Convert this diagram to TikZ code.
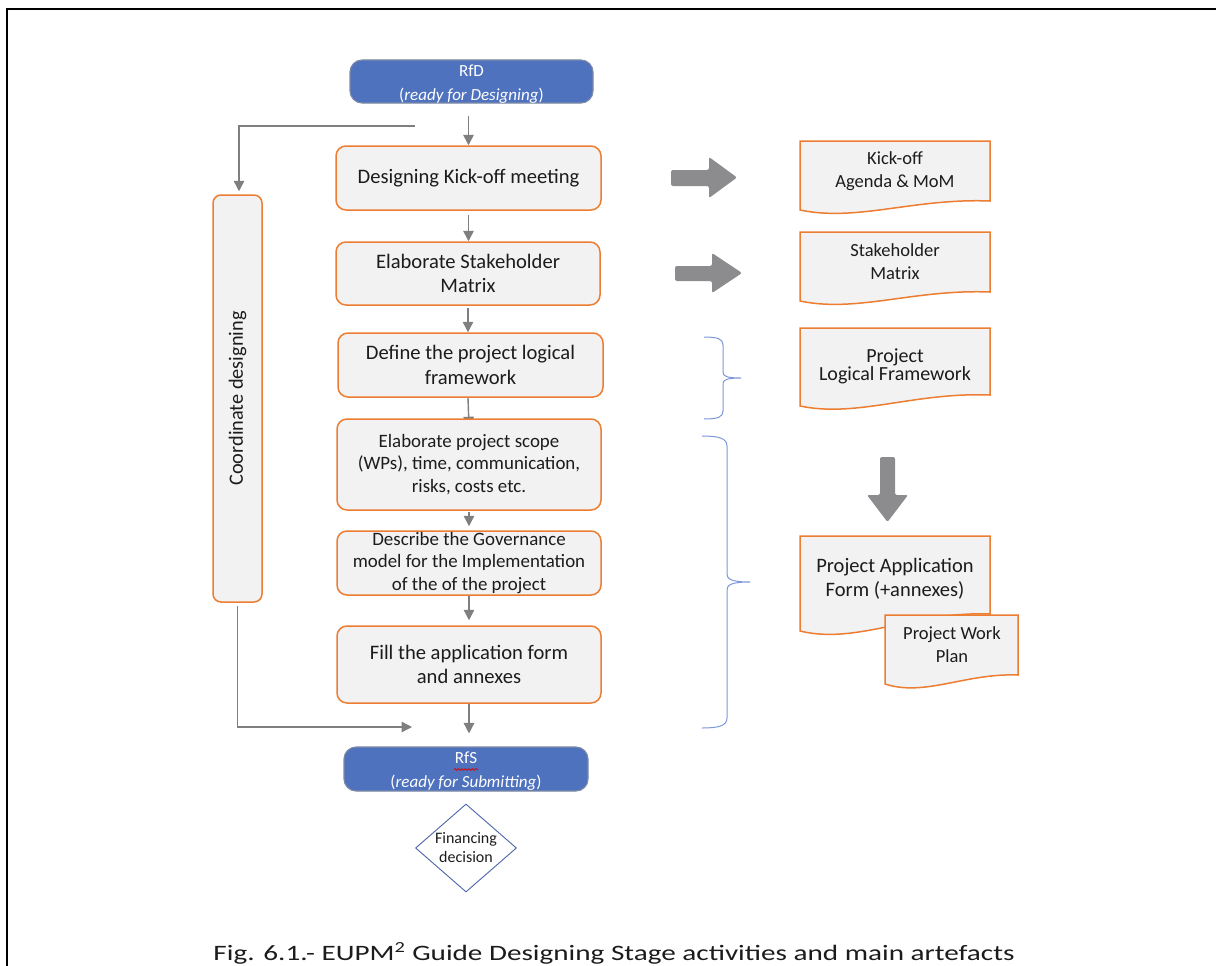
\documentclass[tikz,border=0pt]{standalone}
\usepackage{fontspec}
\setmainfont{Carlito}
\usetikzlibrary{arrows.meta,shapes.geometric,decorations.pathmorphing,backgrounds}

\definecolor{boxfill}{HTML}{F2F2F2}
\definecolor{boxline}{HTML}{ED7D31}
\definecolor{milestone}{HTML}{4F72BE}
\definecolor{msline}{HTML}{7D8AA6}
\definecolor{flowgray}{HTML}{7F7F7F}
\definecolor{bigarrow}{HTML}{8C8C8E}
\definecolor{bracecol}{HTML}{7B98DA}
\definecolor{decisioncol}{HTML}{4A66A8}
\definecolor{ink}{HTML}{1C1C1C}

\begin{document}
\begin{tikzpicture}[x=1pt,y=-1pt,
  activity/.style={draw=boxline, fill=boxfill, line width=1.5pt, rounded corners=10pt,
    inner sep=0pt, align=center, text=ink, font=\fontsize{20.6}{24.4}\selectfont},
  smallact/.style={activity, font=\fontsize{18.9}{22.6}\selectfont},
  milestonebox/.style={draw=msline, fill=milestone, line width=1.1pt, rounded corners=12pt, inner sep=0pt},
  mstext/.style={align=center, text=white, inner sep=0pt, font=\fontsize{17}{24}\selectfont},
  docshape/.style={draw=boxline, fill=boxfill, line width=1.5pt},
  doctext/.style={align=center, text=ink, inner sep=0pt, font=\fontsize{18.5}{23}\selectfont},
  flow/.style={draw=flowgray, line width=1.4pt, -{Triangle[length=10.5pt,width=10.5pt]}},
  fatarrow/.style={fill=bigarrow, rounded corners=2pt},
  bracket/.style={draw=bracecol, line width=1pt},
]
\useasboundingbox (0,0) rectangle (1216,966);
\begin{scope}[on background layer]
  \fill[white] (0,0) rectangle (1216,966);
\end{scope}

% page frame
\draw[line width=2.6pt] (7,975) -- (7,9) -- (1225,9);

% milestones
\node[milestonebox, minimum width=243, minimum height=43] (rfd) at (471.5,81.5) {};
\node[mstext] (rfdtext) at ([yshift=-2.5pt]rfd.center) {RfD\\(\textit{ready for Designing})};
\node[milestonebox, minimum width=244, minimum height=44] (rfs) at (466,769) {};
\node[mstext] (rfstext) at ([yshift=-2.5pt]rfs.center) {RfS\\(\textit{ready for Submitting})};

% activities
\node[activity, minimum width=265, minimum height=64] (kick) at (468.5,178)
  {Designing Kick-off meeting};
\node[activity, minimum width=264, minimum height=63] (stake) at (468,273.5)
  {Elaborate Stakeholder\\Matrix};
\node[activity, minimum width=265, minimum height=64] (logic) at (470.5,365)
  {Define the project logical\\framework};
\node[smallact, minimum width=264, minimum height=91] (scope) at (469,464.5)
  {Elaborate project scope\\(WPs), time, communication,\\risks, costs etc.};
\node[smallact, minimum width=264, minimum height=64] (gov) at (469,563)
  {Describe the Governance\\model for the Implementation\\of the of the project};
\node[activity, minimum width=264, minimum height=77] (fill) at (469,664.5)
  {Fill the application form\\and annexes};

% coordination lane
\node[activity, rounded corners=8pt, minimum width=49, minimum height=407] (coord) at (237.5,398.5) {};
\node[rotate=90, text=ink, inner sep=0pt, font=\fontsize{20.3}{24}\selectfont] (coordtext) at (coord.center)
  {Coordinate designing};

% decision
\node[diamond, draw=decisioncol, line width=0.9pt, minimum width=101, minimum height=88, inner sep=0pt] (fin) at (466,848) {};
\node[align=center, text=ink, inner sep=0pt, font=\fontsize{16}{19}\selectfont] (fintext) at (fin.center)
  {Financing\\decision};

% spell-check mark under RfS
\draw[red!85!black, line width=0.7pt, decorate, decoration={snake, amplitude=0.9pt, segment length=3.5pt}]
  ([xshift=-12pt,yshift=-0.5pt]rfs.center) -- ([xshift=12pt,yshift=-0.5pt]rfs.center);

% flow connectors
\coordinate (split) at (415,126);
\coordinate (join) at (412,727);
\begin{scope}[on background layer]
  \draw[flow] ([yshift=-12pt]rfd.south -| kick.north) -- (kick.north);
  \draw[flow] (split) -| ([xshift=1.5pt,yshift=3pt]coord.north);
  \draw[flow] ([yshift=-4pt]kick.south) -- (kick.south |- stake.north);
  \draw[flow] ([yshift=-2pt]stake.south) -- (stake.south |- logic.north);
  \draw[flow] (logic.south -| stake.south) -- ([yshift=-9pt]scope.north);
  \draw[flow] ([yshift=-1pt]scope.south) -- ([yshift=4pt]gov.north);
  \draw[flow] (gov.south) -- ([yshift=5pt]fill.north);
  \draw[flow] (fill.south) -- ([yshift=13pt]rfs.north -| fill.south);
  \draw[flow] ([yshift=-3pt]coord.south) |- (join);
\end{scope}

% artefacts
\draw[docshape] (800,141) -- (990,141) -- (990,201)
  .. controls (914,198) and (857,222) .. (800,210) -- cycle;
\node[doctext] (doc1) at (895,171.5) {Kick-off\\Agenda \& MoM};

\draw[docshape] (800,232) -- (990,232) -- (990,292)
  .. controls (914,289) and (857,313) .. (800,301) -- cycle;
\node[doctext] (doc2) at (895,261.5) {Stakeholder\\Matrix};

\draw[docshape] (800,328) -- (990,328) -- (990,395)
  .. controls (914,392) and (857,418) .. (800,406) -- cycle;
\node[doctext, font=\fontsize{20}{16}\selectfont] (doc3) at (895,366.5) {Project\\Logical Framework};

\draw[docshape] (800,536) -- (990,536) -- (990,614)
  .. controls (914,611) and (857,645) .. (800,631) -- cycle;
\node[doctext, font=\fontsize{20.5}{24}\selectfont] (doc4) at (895,579) {Project Application\\Form (+annexes)};

\draw[docshape] (885,615) -- (1018,615) -- (1018,675)
  .. controls (965,673) and (925,697) .. (885,684) -- cycle;
\node[doctext] (doc5) at (952,644.5) {Project Work\\Plan};

% produce arrows
\fill[fatarrow] (671,170) -- (709,170) -- (709,157) -- (737,177.5) -- (709,198) -- (709,186) -- (671,186) -- cycle;
\fill[fatarrow] (675,266) -- (712,266) -- (712,253) -- (742,273) -- (712,293) -- (712,281) -- (675,281) -- cycle;
\fill[fatarrow] (880,457) -- (895,457) -- (895,495) -- (908,495) -- (887.5,522) -- (867,495) -- (880,495) -- cycle;

% braces
\draw[bracket] (704,337) .. controls (718,337) and (723,339) .. (723,345) -- (723,372)
  .. controls (723,376) and (726,378) .. (741,378)
  .. controls (726,378) and (723,380) .. (723,384) -- (723,411)
  .. controls (723,417) and (718,419) .. (704,419);
\draw[bracket] (702,436) .. controls (718,436) and (727,438) .. (727,446) -- (727,574)
  .. controls (727,579) and (731,582) .. (750,582)
  .. controls (731,582) and (727,585) .. (727,590) -- (727,718)
  .. controls (727,726) and (718,728) .. (702,728);

% caption
\node[anchor=base, text=ink, inner sep=0pt, xscale=1.326, font=\fontsize{22}{26}\selectfont] (caption) at (614,960)
  {Fig. 6.1.- EUPM\textsuperscript{2} Guide Designing Stage activities and main artefacts};
\end{tikzpicture}
\end{document}
